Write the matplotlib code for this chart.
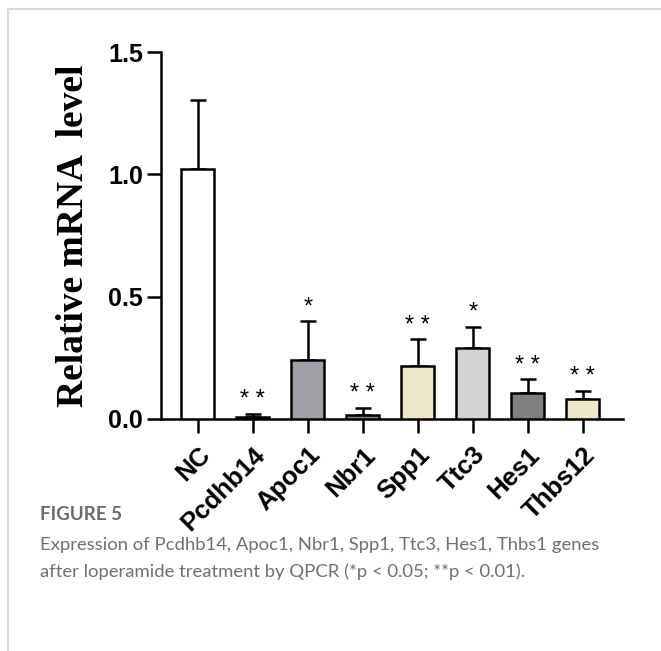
import matplotlib
matplotlib.use("Agg")
import matplotlib.pyplot as plt
from matplotlib.lines import Line2D

categories = ["NC", "Pcdhb14", "Apoc1", "Nbr1", "Spp1", "Ttc3", "Hes1", "Thbs12"]
means = [1.022, 0.010, 0.243, 0.018, 0.215, 0.292, 0.107, 0.082]
errors = [0.283, 0.010, 0.156, 0.026, 0.110, 0.086, 0.055, 0.034]
signif = ["", "**", "*", "**", "**", "*", "**", "**"]
colors = ["#ffffff", "#6e6e6e", "#a09fa6", "#808080", "#eee7c9", "#d4d4d4", "#808080", "#eee7c9"]
yticks = [0.0, 0.5, 1.0, 1.5]

W, H = 661, 651
fig = plt.figure(figsize=(W / 100, H / 100), dpi=100)
ax = fig.add_axes([161 / W, 1 - 419 / H, 462 / W, (419 - 52) / H])

x = list(range(len(categories)))
ax.bar(x, means, width=0.6, color=colors, edgecolor="black", linewidth=1.8, zorder=3)
ax.errorbar(x, means, yerr=[[0] * len(errors), errors], fmt="none", ecolor="black",
            elinewidth=1.8, capsize=6, capthick=1.8, zorder=2)
for xi, m, e, s in zip(x, means, errors, signif):
    if s:
        ax.annotate(" ".join(s), (xi, m + e), xytext=(0, 2), textcoords="offset points",
                    ha="center", va="bottom", fontsize=17, family="Liberation Sans")

ax.set_xlim(-0.67, 7.73)
ax.set_ylim(0, 1.5)
ax.set_yticks(yticks)
ax.set_yticklabels([f"{v:.1f}" for v in yticks], fontsize=18, fontweight="bold",
                   family="Liberation Sans")
ax.set_xticks(x)
ax.set_xticklabels(categories, rotation=45, ha="right", rotation_mode="anchor",
                   fontsize=18.5, fontweight="bold", family="Liberation Sans")
ax.tick_params(axis="both", width=1.8, length=10, pad=3)
ax.tick_params(axis="x", pad=7)
for sp in ["top", "right"]:
    ax.spines[sp].set_visible(False)
for sp in ["left", "bottom"]:
    ax.spines[sp].set_linewidth(1.8)
ax.set_ylabel("Relative mRNA  level", fontsize=27, fontweight="bold",
              family="Liberation Serif", labelpad=12)

# frame
fig.add_artist(Line2D([8 / W, 1], [1 - 9 / H, 1 - 9 / H], color="#d9d9d9", linewidth=1.5))
fig.add_artist(Line2D([8 / W, 8 / W], [0, 1 - 9 / H], color="#d9d9d9", linewidth=1.5))

fig.text(40 / W, 1 - 515 / H, "FIGURE 5", fontsize=13.5, color="#6b6b6b",
         family="Lato", fontweight="bold", va="center")
fig.text(40 / W, 1 - 545 / H,
         "Expression of Pcdhb14, Apoc1, Nbr1, Spp1, Ttc3, Hes1, Thbs1 genes",
         fontsize=13.3, color="#707070", family="Lato", va="center")
fig.text(40 / W, 1 - 572 / H,
         "after loperamide treatment by QPCR (*p < 0.05; **p < 0.01).",
         fontsize=13.3, color="#707070", family="Lato", va="center")

fig.savefig("out.png", dpi=100, facecolor="white")
